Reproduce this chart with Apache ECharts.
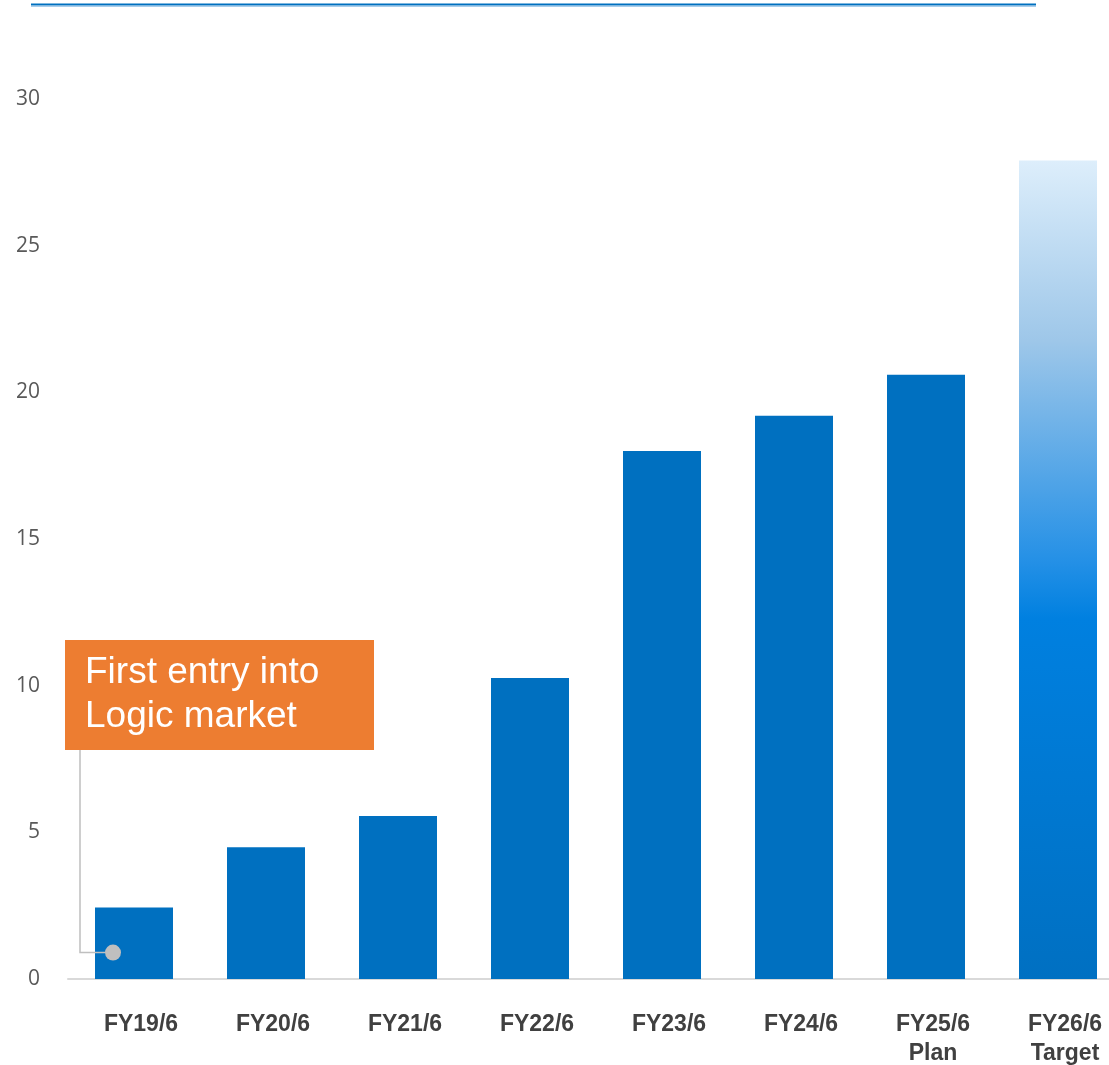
<!DOCTYPE html>
<html>
<head>
<meta charset="utf-8">
<script src="https://cdn.jsdelivr.net/npm/echarts@6/dist/echarts.min.js"></script>
<style>
  html, body { margin: 0; padding: 0; background: #fff; }
  #chart { width: 1109px; height: 1065px; }
</style>
</head>
<body>
<div id="chart"></div>
<script>
// Fiscal years on the x axis
const categories = ['FY19/6', 'FY20/6', 'FY21/6', 'FY22/6', 'FY23/6', 'FY24/6', 'FY25/6\nPlan', 'FY26/6\nTarget'];
// Bar heights per fiscal year
const values = [2.44, 4.49, 5.56, 10.26, 18.0, 19.2, 20.6, 27.9];
// Y axis range and step
const yMin = 0;
const yMax = 30;
const yStep = 5;
// Callout text and the value where its pointer touches the first bar
const calloutLines = ['First entry into', 'Logic market'];
const calloutIndex = 0;
const calloutValue = 0.9;

const BLUE = '#0070C0';

// The target year fades from light at the top to solid blue at the base
const targetFill = new echarts.graphic.LinearGradient(0, 0, 0, 1, [
  { offset: 0, color: '#DDEEFB' },
  { offset: 0.22, color: '#9EC7E9' },
  { offset: 0.49, color: '#2490E6' },
  { offset: 0.56, color: '#0080E0' },
  { offset: 1, color: '#0070C2' }
]);

const barData = values.map((v, i) => (
  i === values.length - 1 ? { value: v, itemStyle: { color: targetFill } } : v
));

const chart = echarts.init(document.getElementById('chart'), null, { renderer: 'canvas' });

chart.setOption({
  animation: false,
  backgroundColor: '#ffffff',
  grid: { left: 68, top: 99, bottom: 86, width: 1056, outerBoundsMode: 'none', containLabel: false },
  xAxis: {
    type: 'category',
    data: categories,
    axisLine: { show: true, lineStyle: { color: '#D9D9D9', width: 2 } },
    axisTick: { show: false },
    axisLabel: {
      margin: 31,
      padding: [0, 0, 0, 14],
      color: '#404040',
      fontFamily: 'Liberation Sans, Arial, sans-serif',
      fontWeight: 'bold',
      fontSize: 23,
      lineHeight: 29,
      interval: 0
    }
  },
  yAxis: {
    type: 'value',
    min: yMin,
    max: yMax,
    interval: yStep,
    axisLine: { show: false },
    axisTick: { show: false },
    splitLine: { show: false },
    axisLabel: {
      margin: 28,
      padding: [3, 0, 0, 0],
      color: '#595959',
      fontFamily: 'Open Sans, Noto Sans, sans-serif',
      fontSize: 21
    }
  },
  series: [{
    type: 'bar',
    data: barData,
    barWidth: 78,
    itemStyle: { color: BLUE },
    silent: true
  }]
});

// Callout box with its pointer, anchored to the first bar
const anchor = chart.convertToPixel({ xAxisIndex: 0, yAxisIndex: 0 }, [calloutIndex, calloutValue]);
const dotX = anchor[0] - 21;
const dotY = anchor[1];
const boxLeft = anchor[0] - 69;
const boxTop = 640;
const boxW = 309;
const boxH = 110;
const stemX = boxLeft + 15;

chart.setOption({
  graphic: [
    // rule across the top
    { type: 'line', shape: { x1: 31, y1: 4.5, x2: 1036, y2: 4.5 }, style: { stroke: BLUE, lineWidth: 2 } },
    { type: 'line', shape: { x1: 31, y1: 6.5, x2: 1036, y2: 6.5 }, style: { stroke: '#A9CDEB', lineWidth: 1.2 } },
    // pointer
    {
      type: 'polyline',
      shape: { points: [[stemX, boxTop + boxH], [stemX, dotY], [dotX, dotY]] },
      style: { stroke: '#BFBFBF', lineWidth: 1.5, fill: null },
      z: 10
    },
    { type: 'circle', shape: { cx: dotX, cy: dotY, r: 8 }, style: { fill: '#BFBFBF' }, z: 11 },
    // box
    { type: 'rect', shape: { x: boxLeft, y: boxTop, width: boxW, height: boxH }, style: { fill: '#ED7D31' }, z: 12 },
    {
      type: 'text',
      x: boxLeft + 20,
      y: boxTop + 11,
      style: {
        text: calloutLines.join('\n'),
        fill: '#ffffff',
        font: '37px "Liberation Sans", Arial, sans-serif',
        lineHeight: 44,
        textAlign: 'left',
        textVerticalAlign: 'top'
      },
      z: 13
    }
  ]
});
</script>
</body>
</html>
